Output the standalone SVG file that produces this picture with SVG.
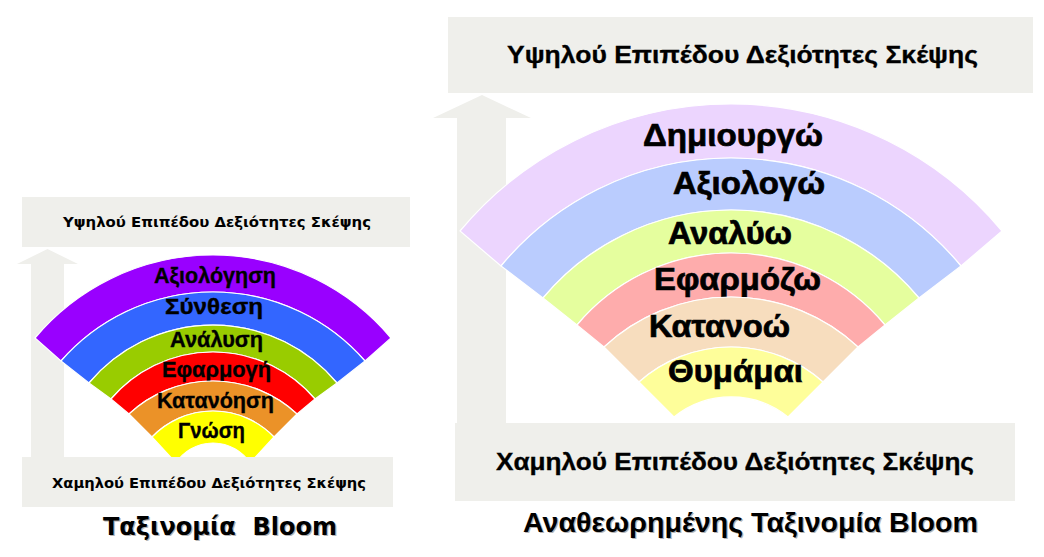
<svg xmlns="http://www.w3.org/2000/svg" width="1044" height="557" viewBox="0 0 1044 557">
<style>
.box{fill:#EFEFEB}
.arrow{fill:#EFEFEB}
.band{stroke:#FFFFFF;stroke-width:1.2}
.lblL{font-family:"Liberation Sans",Arial,sans-serif;font-weight:bold;font-size:21.5px;fill:#000;stroke:#000;stroke-width:0.35}
.lblR{font-family:"Liberation Sans",Arial,sans-serif;font-weight:bold;font-size:31px;fill:#000;stroke:#000;stroke-width:0.7}
.boxL{font-family:"DejaVu Sans",Verdana,sans-serif;font-weight:bold;font-size:14px;fill:#000}
.boxR{font-family:"Liberation Sans",Arial,sans-serif;font-weight:bold;font-size:23px;fill:#000;stroke:#000;stroke-width:0.3}
.titleL{font-family:"DejaVu Sans",Verdana,sans-serif;font-weight:bold;font-size:25px;white-space:pre}
.titleR{font-family:"Liberation Sans",Arial,sans-serif;font-weight:bold;font-size:27px}
.shadow{fill:#B4B4B4}
.ink{fill:#000}
</style>
<rect width="1044" height="557" fill="#FFFFFF"/>

<!-- connectors: the two upward arrows -->
<g id="connectors">
  <polygon class="arrow" points="47.5,249 78,264 64,264 64,458 31,458 31,264 17,264"/>
  <polygon class="arrow" points="482,95 531,118 506,118 506,424 457,424 457,118 433,118"/>
</g>

<!-- left diagram -->
<g id="left-high-box">
  <rect class="box" x="22" y="197" width="388" height="50"/>
  <text class="boxL" x="63" y="227" textLength="308" lengthAdjust="spacingAndGlyphs">Υψηλού Επιπέδου Δεξιότητες Σκέψης</text>
</g>
<g id="left-fan">
  <g id="left-band-axiologisi">
    <path class="band" fill="#9900FF" d="M35,338 A232.4,232.4 0 0 1 391,338 L365,361 A201.9,201.9 0 0 0 61,361 Z"/>
    <text class="lblL" x="154" y="283" textLength="122" lengthAdjust="spacingAndGlyphs">Αξιολόγηση</text>
  </g>
  <g id="left-band-synthesi">
    <path class="band" fill="#3366FF" d="M61,361 A201.9,201.9 0 0 1 365,361 L337,383 A161.6,161.6 0 0 0 89,383 Z"/>
    <text class="lblL" x="165" y="314" textLength="98" lengthAdjust="spacingAndGlyphs">Σύνθεση</text>
  </g>
  <g id="left-band-analysi">
    <path class="band" fill="#99CC00" d="M89,383 A161.6,161.6 0 0 1 337,383 L315,399 A134.2,134.2 0 0 0 111,399 Z"/>
    <text class="lblL" x="170" y="347" textLength="93" lengthAdjust="spacingAndGlyphs">Ανάλυση</text>
  </g>
  <g id="left-band-efarmogi">
    <path class="band" fill="#FF0000" d="M111,399 A134.2,134.2 0 0 1 315,399 L297,414 A123.4,123.4 0 0 0 129,414 Z"/>
    <text class="lblL" x="162" y="377" textLength="109" lengthAdjust="spacingAndGlyphs">Εφαρμογή</text>
  </g>
  <g id="left-band-katanoisi">
    <path class="band" fill="#EB9228" d="M129,414 A123.4,123.4 0 0 1 297,414 L274,437 A84.6,84.6 0 0 0 152,437 Z"/>
    <text class="lblL" x="157" y="408" textLength="117" lengthAdjust="spacingAndGlyphs">Κατανόηση</text>
  </g>
  <g id="left-band-gnosi">
    <path class="band" fill="#FFFF00" d="M152,437 A84.6,84.6 0 0 1 274,437 L250,463 A44.2,44.2 0 0 0 176,463 Z"/>
    <text class="lblL" x="178" y="438" textLength="67" lengthAdjust="spacingAndGlyphs">Γνώση</text>
  </g>
</g>
<g id="left-low-box">
  <rect class="box" x="22" y="457" width="371" height="50"/>
  <text class="boxL" x="52" y="488" textLength="314" lengthAdjust="spacingAndGlyphs">Χαμηλού Επιπέδου Δεξιότητες Σκέψης</text>
</g>
<g id="left-title">
  <text class="titleL shadow" x="104.2" y="536.2" textLength="234" lengthAdjust="spacingAndGlyphs">Ταξινομία  Bloom</text>
  <text class="titleL ink" x="103" y="535" textLength="234" lengthAdjust="spacingAndGlyphs">Ταξινομία  Bloom</text>
</g>

<!-- right diagram -->
<g id="right-high-box">
  <rect class="box" x="448" y="17" width="585" height="76"/>
  <text class="boxR" x="507" y="63" textLength="471" lengthAdjust="spacingAndGlyphs">Υψηλού Επιπέδου Δεξιότητες Σκέψης</text>
</g>
<g id="right-fan">
  <g id="right-band-dimiourgo">
    <path class="band" fill="#ECD5FE" d="M460,231 A352.6,352.6 0 0 1 1002,231 L961,266 A298.9,298.9 0 0 0 501,266 Z"/>
    <text class="lblR" x="643" y="146" textLength="180" lengthAdjust="spacingAndGlyphs">Δημιουργώ</text>
  </g>
  <g id="right-band-axiologo">
    <path class="band" fill="#BACCFE" d="M501,266 A298.9,298.9 0 0 1 961,266 L919,298 A244.8,244.8 0 0 0 543,298 Z"/>
    <text class="lblR" x="673" y="194" textLength="152" lengthAdjust="spacingAndGlyphs">Αξιολογώ</text>
  </g>
  <g id="right-band-analyo">
    <path class="band" fill="#E5FE9E" d="M543,298 A244.8,244.8 0 0 1 919,298 L885,325 A200.7,200.7 0 0 0 577,325 Z"/>
    <text class="lblR" x="668" y="244" textLength="124" lengthAdjust="spacingAndGlyphs">Αναλύω</text>
  </g>
  <g id="right-band-efarmozo">
    <path class="band" fill="#FEACAC" d="M577,325 A200.7,200.7 0 0 1 885,325 L858,347 A186.3,186.3 0 0 0 604,347 Z"/>
    <text class="lblR" x="654" y="290" textLength="167" lengthAdjust="spacingAndGlyphs">Εφαρμόζω</text>
  </g>
  <g id="right-band-katanoo">
    <path class="band" fill="#F7DDBE" d="M604,347 A186.3,186.3 0 0 1 858,347 L823,382 A138.4,138.4 0 0 0 639,382 Z"/>
    <text class="lblR" x="649" y="337" textLength="141" lengthAdjust="spacingAndGlyphs">Κατανοώ</text>
  </g>
  <g id="right-band-thymamai">
    <path class="band" fill="#FEFE9A" d="M639,382 A138.4,138.4 0 0 1 823,382 L788,417 A91,91 0 0 0 674,417 Z"/>
    <text class="lblR" x="668" y="382" textLength="135" lengthAdjust="spacingAndGlyphs">Θυμάμαι</text>
  </g>
</g>
<g id="right-low-box">
  <rect class="box" x="455" y="423" width="560" height="78"/>
  <text class="boxR" x="496" y="470" textLength="478" lengthAdjust="spacingAndGlyphs">Χαμηλού Επιπέδου Δεξιότητες Σκέψης</text>
</g>
<g id="right-title">
  <text class="titleR shadow" x="524.2" y="533.2" textLength="455" lengthAdjust="spacingAndGlyphs">Αναθεωρημένης Ταξινομία Bloom</text>
  <text class="titleR ink" x="523" y="532" textLength="455" lengthAdjust="spacingAndGlyphs">Αναθεωρημένης Ταξινομία Bloom</text>
</g>
</svg>
